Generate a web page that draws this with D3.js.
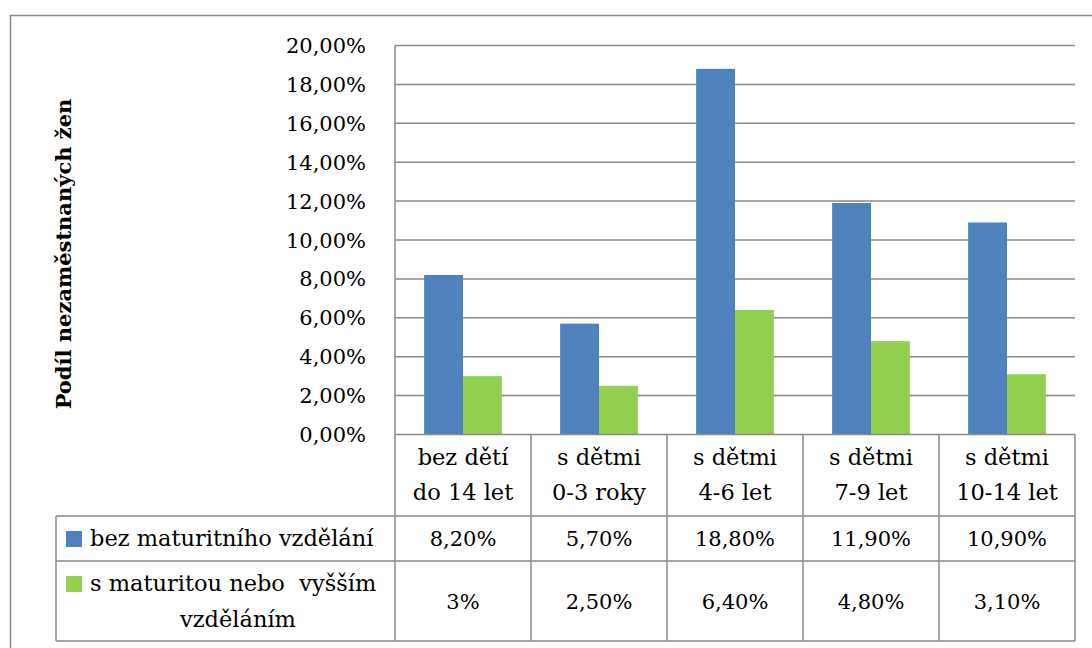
<!DOCTYPE html>
<html>
<head>
<meta charset="utf-8">
<script src="https://cdn.jsdelivr.net/npm/d3@7.9.0/dist/d3.min.js"></script>
<style>
  body { margin: 0; background: #fff; }
  svg { display: block; }
  svg text { font-family: "DejaVu Serif", serif; }
</style>
</head>
<body>
<svg id="chart" width="1092" height="648"></svg>
<script>
// data
const categories = [
  ['bez dětí', 'do 14 let'],
  ['s dětmi', '0-3 roky'],
  ['s dětmi', '4-6 let'],
  ['s dětmi', '7-9 let'],
  ['s dětmi', '10-14 let']
];
const seriesNames = ['bez maturitního vzdělání', 's maturitou nebo  vyšším vzděláním'];
const bezMaturity = [0.082, 0.057, 0.188, 0.119, 0.109];
const sMaturitou = [0.03, 0.025, 0.064, 0.048, 0.031];
// the table shows the second series' first value as "3%"
const bezMaturityText = ['8,20%', '5,70%', '18,80%', '11,90%', '10,90%'];
const sMaturitouText = ['3%', '2,50%', '6,40%', '4,80%', '3,10%'];
const yTicks = [0, 0.02, 0.04, 0.06, 0.08, 0.10, 0.12, 0.14, 0.16, 0.18, 0.20];
const colors = ['#4f81bd', '#92d050'];

const series = [bezMaturity, sMaturitou];
const seriesText = [bezMaturityText, sMaturitouText];

const svg = d3.select('#chart');
const lineColor = '#8a8a8a';
const numSize = 21;   // numbers
const wordSize = 22.5; // words

const plotLeft = 395, plotRight = 1075, plotTop = 45.5, plotBottom = 434.5;
const headerBottom = 516, row1Bottom = 561, tableBottom = 641, legendLeft = 56;

const cz = d3.formatLocale({ decimal: ',', thousands: ' ', grouping: [3], currency: ['', ' Kč'] });
const pct = cz.format('.2%');

const x0 = d3.scaleBand().domain(d3.range(categories.length)).range([plotLeft, plotRight]);
const x1 = d3.scaleBand().domain(d3.range(series.length)).range([0, x0.bandwidth()]).paddingOuter(0.75);
const y = d3.scaleLinear().domain([0, 0.2]).range([plotBottom, plotTop]);

// outer frame
svg.append('rect')
  .attr('x', 10.5).attr('y', 15.5)
  .attr('width', 1200).attr('height', 800)
  .attr('fill', 'none').attr('stroke', lineColor).attr('stroke-width', 1.5);

// gridlines
svg.append('g').selectAll('line')
  .data(yTicks.filter(d => d > 0))
  .join('line')
  .attr('x1', plotLeft).attr('x2', plotRight)
  .attr('y1', d => y(d)).attr('y2', d => y(d))
  .attr('stroke', lineColor).attr('stroke-width', 1.5);

// y tick labels
svg.append('g').selectAll('text')
  .data(yTicks)
  .join('text')
  .attr('x', 366)
  .attr('y', d => y(d))
  .attr('dy', '0.36em')
  .attr('text-anchor', 'end')
  .attr('font-size', numSize)
  .text(d => pct(d));

// bars
const groups = svg.append('g').selectAll('g')
  .data(categories)
  .join('g')
  .attr('transform', (d, i) => `translate(${x0(i)},0)`);

groups.selectAll('rect')
  .data((d, i) => series.map((s, j) => ({ j, v: s[i] })))
  .join('rect')
  .attr('x', d => x1(d.j))
  .attr('width', x1.bandwidth())
  .attr('y', d => y(d.v))
  .attr('height', d => y(0) - y(d.v))
  .attr('fill', d => colors[d.j]);

// y axis title
svg.append('text')
  .attr('transform', 'translate(71,254) rotate(-90)')
  .attr('text-anchor', 'middle')
  .attr('font-size', 21)
  .attr('font-weight', 'bold')
  .text('Podíl nezaměstnaných žen');

// data table lines
const table = svg.append('g').attr('stroke', lineColor).attr('stroke-width', 1.5);
table.append('line').attr('x1', plotLeft).attr('x2', plotLeft).attr('y1', plotTop).attr('y2', tableBottom);
table.append('line').attr('x1', plotLeft).attr('x2', plotRight).attr('y1', plotBottom).attr('y2', plotBottom);
[headerBottom, row1Bottom, tableBottom].forEach(yy => {
  table.append('line').attr('x1', legendLeft).attr('x2', plotRight).attr('y1', yy).attr('y2', yy);
});
table.append('line').attr('x1', legendLeft).attr('x2', legendLeft).attr('y1', headerBottom).attr('y2', tableBottom);
d3.range(1, categories.length + 1).forEach(i => {
  const xx = i < categories.length ? x0(i) : plotRight;
  table.append('line').attr('x1', xx).attr('x2', xx).attr('y1', plotBottom).attr('y2', tableBottom);
});

// category labels
const headers = svg.append('g').selectAll('text')
  .data(categories)
  .join('text')
  .attr('text-anchor', 'middle')
  .attr('font-size', wordSize);
headers.selectAll('tspan')
  .data((d, i) => d.map(t => ({ t, i })))
  .join('tspan')
  .attr('x', d => x0(d.i) + x0.bandwidth() / 2)
  .attr('y', (d, k) => 465 + k * 35)
  .text(d => d.t);

// table values
const rowY = [546, 609];
series.forEach((s, j) => {
  svg.append('g').selectAll('text')
    .data(seriesText[j])
    .join('text')
    .attr('x', (d, i) => x0(i) + x0.bandwidth() / 2)
    .attr('y', rowY[j])
    .attr('text-anchor', 'middle')
    .attr('font-size', numSize)
    .text(d => d);
});

// legend keys in table
svg.append('rect').attr('x', 66).attr('y', 531).attr('width', 16).attr('height', 16).attr('fill', colors[0]);
svg.append('text').attr('x', 90).attr('y', 546).attr('font-size', wordSize).text(seriesNames[0]);

svg.append('rect').attr('x', 66).attr('y', 576).attr('width', 16).attr('height', 16).attr('fill', colors[1]);
svg.append('text').attr('x', 90).attr('y', 591).attr('font-size', wordSize)
  .attr('style', 'white-space: pre').text('s maturitou nebo  vyšším');
svg.append('text').attr('x', 238).attr('y', 627).attr('text-anchor', 'middle').attr('font-size', wordSize).text('vzděláním');
</script>
</body>
</html>
